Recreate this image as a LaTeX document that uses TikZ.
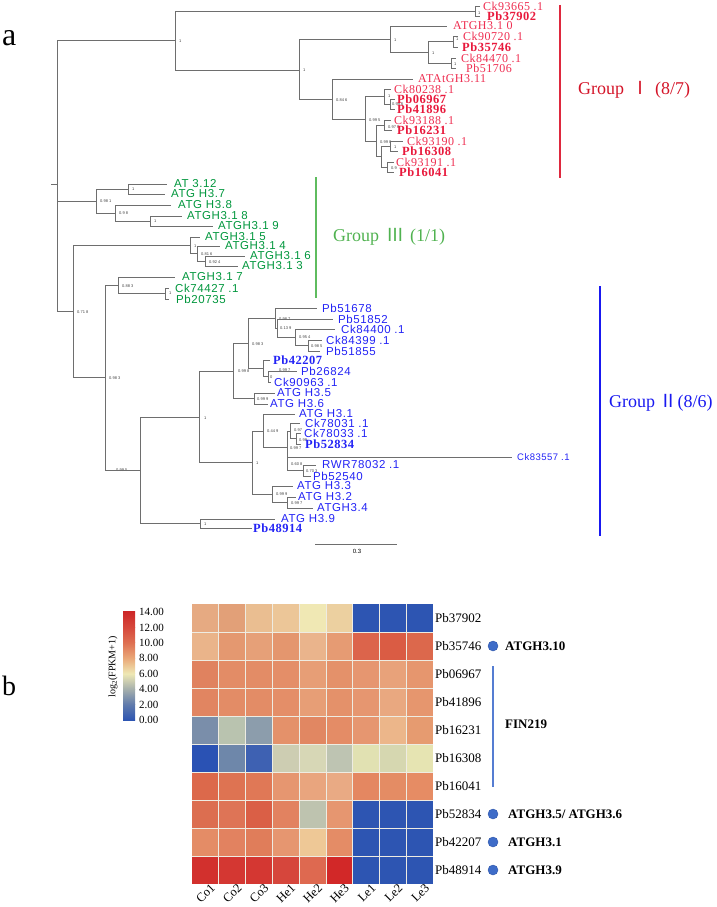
\documentclass[tikz,border=0pt]{standalone}
\usepackage{fontspec}
\setmainfont{Liberation Serif}
\newfontfamily\lsans[LetterSpace=5]{Liberation Sans}
\newfontfamily\lsanst{Liberation Sans}
\newfontfamily\lserifsp[LetterSpace=4]{Liberation Serif}
\newfontfamily\cjkf{Noto Sans CJK SC}
\definecolor{tred}{RGB}{238,45,80}
\definecolor{tredb}{RGB}{232,25,60}
\definecolor{tgreen}{RGB}{0,150,60}
\definecolor{tblue}{RGB}{35,35,245}
\definecolor{branch}{RGB}{110,110,110}
\definecolor{gred}{RGB}{212,20,40}
\definecolor{lred}{RGB}{222,40,62}
\definecolor{ggreen}{RGB}{80,178,80}
\definecolor{lgreen}{RGB}{95,188,95}
\definecolor{gblue}{RGB}{25,25,240}
\definecolor{hblue}{RGB}{45,85,178}
\definecolor{dotblue}{RGB}{62,108,200}
\definecolor{dotedge}{RGB}{45,85,170}
\definecolor{finline}{RGB}{85,125,210}
\definecolor{gridc}{RGB}{238,236,226}
\newcommand\leafn[6]{\coordinate (#1) at (#2,#3); \node[#5] (#1t) at (#4,#3) {#6};}
\newcommand\inn[5]{\coordinate (#1) at (#2,#3); \node[bs] (#1b) at (#4) {#5};}
\tikzset{
 br/.style={draw=branch,line width=0.6pt},
 bs/.style={anchor=west,inner sep=0pt,font=\lsanst\fontsize{4}{4}\selectfont,text=black!75},
 tR/.style={anchor=west,inner sep=0pt,text=tred,font=\lserifsp\fontsize{12}{12}\selectfont},
 tRb/.style={anchor=west,inner sep=0pt,text=tredb,font=\lserifsp\bfseries\fontsize{12.5}{12}\selectfont},
 tG/.style={anchor=west,inner sep=0pt,text=tgreen,font=\lsans\fontsize{11.5}{11}\selectfont},
 tB/.style={anchor=west,inner sep=0pt,text=tblue,font=\lsans\fontsize{11.5}{11}\selectfont},
 tBs/.style={anchor=west,inner sep=0pt,text=tblue,font=\lsans\fontsize{9.5}{9}\selectfont},
 tBb/.style={anchor=west,inner sep=0pt,text=tblue,font=\lserifsp\bfseries\fontsize{12.5}{12}\selectfont},
 grp/.style={anchor=west,inner sep=0pt,font=\fontsize{18}{18}\selectfont},
 rowlab/.style={anchor=west,inner sep=0pt,font=\fontsize{13}{13}\selectfont},
 ann/.style={anchor=west,inner sep=0pt,font=\bfseries\fontsize{13}{13}\selectfont},
 collab/.style={anchor=east,inner sep=0pt,rotate=45,font=\fontsize{12.5}{12.5}\selectfont},
 leglab/.style={anchor=west,inner sep=0pt,font=\fontsize{11}{11}\selectfont},
 dotc/.style={circle,fill=dotblue,draw=dotedge,line width=0.4pt,minimum size=10pt,inner sep=0pt},
}
\begin{document}
\begin{tikzpicture}[x=1pt,y=-1pt]
\useasboundingbox (0,0) rectangle (717,907);
% panel labels
\node[anchor=west,inner sep=0pt,font=\fontsize{32}{32}\selectfont] (pa) at (2,38) {a};
\node[anchor=west,inner sep=0pt,font=\fontsize{28}{28}\selectfont] (pb) at (2,686) {b};

% ---------------- tree: internal nodes ----------------
\coordinate (root0) at (51,184);
\coordinate (root) at (57,184);
% red
\inn{rA}{175}{40.5}{179,41}{1}
\inn{rB}{475}{11}{478,13}{1}
\inn{rC}{299}{70.5}{303,70}{1}
\inn{rD}{390}{39}{394,40}{1}
\inn{rE}{332}{99.5}{336,100}{0.84 6}
\inn{rF}{428}{52}{432,53}{1}
\inn{rG}{453}{41.5}{456,39}{1}
\inn{rH}{451}{63}{454,64}{1}
\inn{rI}{365}{119}{369,120}{0.99 5}
\inn{rJ}{384}{96.5}{388,96}{1}
\inn{rK}{376}{141}{380,142}{0.99 8}
\inn{rL}{390}{104}{392,104}{0.99 6}
\inn{rM}{384}{125}{388,127}{0.97 8}
\coordinate (rN) at (381,156.5);
\inn{rO}{390}{146}{394,147}{1}
\inn{rP}{387}{167}{391,168}{0.9}
% green
\inn{G1}{96}{201}{100,201}{0.98 1}
\inn{G2}{128}{189}{132,189}{1}
\inn{G3}{115}{213}{119,213}{0.9 8}
\inn{G4}{150}{221}{154,221}{1}
\inn{N73}{73}{311.5}{77,312}{0.71 8}
\inn{gA}{190}{245.5}{194,246}{1}
\inn{gB}{197}{253.5}{201,254}{0.81 6}
\inn{gC}{205}{261}{209,262}{0.92 4}
\inn{D}{105}{377.5}{109,378}{0.98 3}
\inn{gE}{118}{285}{122,286}{0.88 3}
\inn{gF}{165}{293.5}{169,293}{1}
% blue
\inn{F}{140}{470}{116,470}{0.99 5}
\inn{H}{199}{417}{204,418}{1}
\inn{I}{233}{371}{238,371}{0.99 8}
\inn{K}{248}{343.5}{252,344}{0.98 3}
\inn{L}{275}{318}{279,319}{0.98 7}
\inn{L2}{277}{328}{280,328.5}{0.13 9}
\inn{L3}{295}{337}{299,337.5}{0.95 4}
\inn{L4}{308}{345.5}{311,346}{0.98 5}
\inn{M}{263}{368.5}{279,370}{0.99 7}
\inn{M2}{268}{376.5}{270,377}{0}
\inn{N}{254}{398.5}{257,399}{0.99 9}
\inn{J}{252}{462.5}{256,463}{1}
\inn{O}{263}{431}{267,431}{0.44 9}
\inn{Q}{287}{447.5}{290,448}{0.99 7}
\inn{Q1}{290}{431}{294,430}{0.97}
\inn{Q2}{296}{438.5}{299,440}{0.99}
\inn{R}{287}{464}{291,464}{0.60 8}
\inn{R2}{303}{470.5}{306,471}{0.70 3}
\inn{P}{272}{494}{276,494}{0.99 9}
\inn{P2}{287}{502.5}{291,503}{0.99 7}
\inn{T}{200}{523.5}{204,524}{1}

% ---------------- leaves ----------------
\leafn{lCk93665}{480}{6}{483}{tR}{Ck93665 .1}
\leafn{lPb37902}{480}{16}{487}{tRb}{Pb37902}
\leafn{lATGH310}{447}{26}{453}{tR}{ATGH3.1 0}
\leafn{lCk90720}{458}{36}{463}{tR}{Ck90720 .1}
\leafn{lPb35746}{458}{47}{462}{tRb}{Pb35746}
\leafn{lCk84470}{456}{58}{461}{tR}{Ck84470 .1}
\leafn{lPb51706}{456}{68}{466}{tR}{Pb51706}
\leafn{lATAt}{413}{79}{418}{tR}{ATAtGH3.11}
\leafn{lCk80238}{391}{89}{394}{tR}{Ck80238 .1}
\leafn{lPb06967}{395}{99}{397}{tRb}{Pb06967}
\leafn{lPb41896}{395}{109}{397}{tRb}{Pb41896}
\leafn{lCk93188}{391}{120}{394}{tR}{Ck93188 .1}
\leafn{lPb16231}{392}{130}{397}{tRb}{Pb16231}
\leafn{lCk93190}{403}{141}{407}{tR}{Ck93190 .1}
\leafn{lPb16308}{398}{151}{402}{tRb}{Pb16308}
\leafn{lCk93191}{394}{162}{396}{tR}{Ck93191 .1}
\leafn{lPb16041}{394}{172}{399}{tRb}{Pb16041}

\leafn{lAT312}{167}{184}{174}{tG}{AT 3.12}
\leafn{lATGH37}{165}{194}{171}{tG}{ATG H3.7}
\leafn{lATGH38}{171}{205}{178}{tG}{ATG H3.8}
\leafn{lATGH318}{182}{216}{187}{tG}{ATGH3.1 8}
\leafn{lATGH319}{213}{226}{218}{tG}{ATGH3.1 9}
\leafn{lATGH315}{200}{237}{205}{tG}{ATGH3.1 5}
\leafn{lATGH314}{220}{246}{225}{tG}{ATGH3.1 4}
\leafn{lATGH316}{245}{256}{250}{tG}{ATGH3.1 6}
\leafn{lATGH313}{238}{266}{242}{tG}{ATGH3.1 3}
\leafn{lATGH317}{175}{277}{182}{tG}{ATGH3.1 7}
\leafn{lCk74427}{169}{288}{175}{tG}{Ck74427 .1}
\leafn{lPb20735}{169}{299}{176}{tG}{Pb20735}

\leafn{lPb51678}{317}{308}{322}{tB}{Pb51678}
\leafn{lPb51852}{333}{319}{338}{tB}{Pb51852}
\leafn{lCk84400}{335}{329}{341}{tB}{Ck84400 .1}
\leafn{lCk84399}{322}{340}{326}{tB}{Ck84399 .1}
\leafn{lPb51855}{320}{351}{326}{tB}{Pb51855}
\leafn{lPb42207}{270}{360}{273}{tBb}{Pb42207}
\leafn{lPb26824}{297}{371}{301}{tB}{Pb26824}
\leafn{lCk90963}{271}{382}{274}{tB}{Ck90963 .1}
\leafn{lATGH35}{275}{393}{277}{tB}{ATG H3.5}
\leafn{lATGH36}{268}{404}{270}{tB}{ATG H3.6}
\leafn{lATGH31}{295}{414}{299}{tB}{ATG H3.1}
\leafn{lCk78031}{300}{423}{305}{tB}{Ck78031 .1}
\leafn{lCk78033}{301}{433}{304}{tB}{Ck78033 .1}
\leafn{lPb52834}{301}{444}{305}{tBb}{Pb52834}
\leafn{lCk83557}{512}{457}{517}{tBs}{Ck83557 .1}
\leafn{lRWR}{316}{465}{322}{tB}{RWR78032 .1}
\leafn{lPb52540}{311}{476}{313}{tB}{Pb52540}
\leafn{lATGH33}{293}{486}{297}{tB}{ATG H3.3}
\leafn{lATGH32}{296}{497}{298}{tB}{ATG H3.2}
\leafn{lATGH34}{313}{508}{317}{tB}{ATGH3.4}
\leafn{lATGH39}{275}{519}{281}{tB}{ATG H3.9}
\leafn{lPb48914}{252}{528}{253}{tBb}{Pb48914}

% ---------------- branches ----------------
\draw[br] (root0) -- (root);
\draw[br] (root) |- (rA); \draw[br] (root) |- (G1); \draw[br] (root) |- (N73);
\draw[br] (rA) |- (rB); \draw[br] (rA) |- (rC);
\draw[br] (rB) |- (lCk93665); \draw[br] (rB) |- (lPb37902);
\draw[br] (rC) |- (rD); \draw[br] (rC) |- (rE);
\draw[br] (rD) |- (lATGH310); \draw[br] (rD) |- (rF);
\draw[br] (rF) |- (rG); \draw[br] (rF) |- (rH);
\draw[br] (rG) |- (lCk90720); \draw[br] (rG) |- (lPb35746);
\draw[br] (rH) |- (lCk84470); \draw[br] (rH) |- (lPb51706);
\draw[br] (rE) |- (lATAt); \draw[br] (rE) |- (rI);
\draw[br] (rI) |- (rJ); \draw[br] (rI) |- (rK);
\draw[br] (rJ) |- (lCk80238); \draw[br] (rJ) |- (rL);
\draw[br] (rL) |- (lPb06967); \draw[br] (rL) |- (lPb41896);
\draw[br] (rK) |- (rM); \draw[br] (rK) |- (rN);
\draw[br] (rM) |- (lCk93188); \draw[br] (rM) |- (lPb16231);
\draw[br] (rN) |- (rO); \draw[br] (rN) |- (rP);
\draw[br] (rO) |- (lCk93190); \draw[br] (rO) |- (lPb16308);
\draw[br] (rP) |- (lCk93191); \draw[br] (rP) |- (lPb16041);

\draw[br] (G1) |- (G2); \draw[br] (G1) |- (G3);
\draw[br] (G2) |- (lAT312); \draw[br] (G2) |- (lATGH37);
\draw[br] (G3) |- (lATGH38); \draw[br] (G3) |- (G4);
\draw[br] (G4) |- (lATGH318); \draw[br] (G4) |- (lATGH319);
\draw[br] (N73) |- (gA); \draw[br] (N73) |- (D);
\draw[br] (gA) |- (lATGH315); \draw[br] (gA) |- (gB);
\draw[br] (gB) |- (lATGH314); \draw[br] (gB) |- (gC);
\draw[br] (gC) |- (lATGH316); \draw[br] (gC) |- (lATGH313);
\draw[br] (D) |- (gE); \draw[br] (D) |- (F);
\draw[br] (gE) |- (lATGH317); \draw[br] (gE) |- (gF);
\draw[br] (gF) |- (lCk74427); \draw[br] (gF) |- (lPb20735);

\draw[br] (F) |- (H); \draw[br] (F) |- (T);
\draw[br] (H) |- (I); \draw[br] (H) |- (J);
\draw[br] (I) |- (K); \draw[br] (I) |- (N);
\draw[br] (K) |- (L); \draw[br] (K) |- (M);
\draw[br] (L) |- (lPb51678); \draw[br] (L) |- (L2);
\draw[br] (L2) |- (lPb51852); \draw[br] (L2) |- (L3);
\draw[br] (L3) |- (lCk84400); \draw[br] (L3) |- (L4);
\draw[br] (L4) |- (lCk84399); \draw[br] (L4) |- (lPb51855);
\draw[br] (M) |- (lPb42207); \draw[br] (M) |- (M2);
\draw[br] (M2) |- (lPb26824); \draw[br] (M2) |- (lCk90963);
\draw[br] (N) |- (lATGH35); \draw[br] (N) |- (lATGH36);
\draw[br] (J) |- (O); \draw[br] (J) |- (P);
\draw[br] (O) |- (lATGH31); \draw[br] (O) |- (Q);
\draw[br] (Q) |- (Q1); \draw[br] (Q) |- (R);
\draw[br] (Q1) |- (lCk78031); \draw[br] (Q1) |- (Q2);
\draw[br] (Q2) |- (lCk78033); \draw[br] (Q2) |- (lPb52834);
\draw[br] (R) |- (lCk83557); \draw[br] (R) |- (R2);
\draw[br] (R2) |- (lRWR); \draw[br] (R2) |- (lPb52540);
\draw[br] (P) |- (lATGH33); \draw[br] (P) |- (P2);
\draw[br] (P2) |- (lATGH32); \draw[br] (P2) |- (lATGH34);
\draw[br] (T) |- (lATGH39); \draw[br] (T) |- (lPb48914);

% ---------------- group bars ----------------
\coordinate (g1t) at (560,5); \coordinate (g1b) at (560,178);
\draw[lred,line width=1.5pt] (g1t) -- (g1b);
\node[grp,text=gred] (g1l) at (578,90) {Group\hspace{7pt}{\cjkf Ⅰ}\hspace{6pt}(8/7)};
\coordinate (g3t) at (316,177); \coordinate (g3b) at (316,298);
\draw[lgreen,line width=1.3pt] (g3t) -- (g3b);
\node[grp,text=ggreen] (g3l) at (333,237) {Group\hspace{7pt}{\cjkf Ⅲ}\hspace{6pt}(1/1)};
\coordinate (g2t) at (600,286); \coordinate (g2b) at (600,536);
\draw[gblue,line width=1.5pt] (g2t) -- (g2b);
\node[grp,text=gblue] (g2l) at (609,403) {Group {\cjkf Ⅱ}(8/6)};

% scale bar
\coordinate (sb1) at (315,544); \coordinate (sb2) at (397,544);
\draw[branch,line width=0.6pt] (sb1) -- (sb2);
\node[inner sep=0pt,font=\lsanst\fontsize{6}{6}\selectfont] (sbl) at (357,551) {0.3};

% ---------------- heatmap ----------------
\newcommand\hrow[2]{%
 \foreach \cR/\cG/\cB [count=\ci from 0] in {#2} {
  \definecolor{tmpc}{RGB}{\cR,\cG,\cB}
  \fill[tmpc] (192+26.8*\ci,604+28*#1) rectangle +(26.8,28);
 }}
\hrow{0}{230/170/130,226/160/120,234/190/145,236/198/152,240/232/180,236/208/160,45/85/178,45/85/178,45/85/178}
\hrow{1}{234/180/138,228/152/112,230/160/120,228/150/110,234/180/140,230/155/115,220/100/75,218/92/68,220/104/76}
\hrow{2}{224/130/95,227/140/102,227/140/102,228/142/104,231/158/118,228/145/106,230/150/112,232/162/122,230/150/110}
\hrow{3}{225/133/97,227/140/102,227/140/102,228/142/104,231/158/118,228/145/106,230/150/112,233/168/128,230/150/110}
\hrow{4}{122/142/170,185/195/175,140/157/172,228/145/106,225/135/98,228/140/102,230/150/112,236/182/138,230/155/112}
\hrow{5}{42/82/180,110/135/170,62/97/178,205/205/178,215/215/182,190/196/178,225/225/178,214/215/176,230/228/178}
\hrow{6}{220/105/75,222/115/82,224/120/86,230/150/112,233/165/126,233/170/132,228/135/97,228/140/100,230/140/100}
\hrow{7}{220/110/80,222/116/86,218/95/70,226/130/96,190/195/175,230/150/112,45/85/178,45/85/178,45/85/178}
\hrow{8}{228/140/102,226/130/96,224/125/90,230/150/112,238/200/150,228/140/102,45/85/178,45/85/178,45/85/178}
\hrow{9}{210/48/45,212/55/50,212/55/50,214/70/60,222/105/80,210/40/40,45/85/178,45/85/178,45/85/178}
\foreach \k in {1,...,8} \draw[gridc,line width=0.9pt] (192+26.8*\k,604) -- (192+26.8*\k,884);
\foreach \k in {1,...,9} \draw[gridc,line width=0.9pt] (192,604+28*\k) -- (433.2,604+28*\k);

% row labels
\foreach \lab [count=\k from 0] in {Pb37902,Pb35746,Pb06967,Pb41896,Pb16231,Pb16308,Pb16041,Pb52834,Pb42207,Pb48914}
  \node[rowlab] (row\k) at (435,618+28*\k) {\lab};
% column labels
\foreach \lab [count=\k from 0] in {Co1,Co2,Co3,He1,He2,He3,Le1,Le2,Le3}
  \node[collab] (col\k) at (192+26.8*\k+21,886) {\lab};

% annotations
\node[dotc] (d1) at (493,646) {};
\node[ann] (a1) at (505,646) {ATGH3.10};
\coordinate (fin1) at (493,666); \coordinate (fin2) at (493,787);
\draw[finline,line width=1.2pt] (fin1) -- (fin2);
\node[ann] (afin) at (505,724) {FIN219};
\node[dotc] (d2) at (493,814) {};
\node[ann] (a2) at (508,814) {ATGH3.5/ ATGH3.6};
\node[dotc] (d3) at (493,842) {};
\node[ann] (a3) at (508,842) {ATGH3.1};
\node[dotc] (d4) at (493,870) {};
\node[ann] (a4) at (508,870) {ATGH3.9};

% legend
\def\lh{15.43}
\shade[bottom color={rgb,255:red,45;green,85;blue,178},top color={rgb,255:red,95;green,122;blue,172}] (123,720) rectangle (135,720-\lh);
\shade[bottom color={rgb,255:red,95;green,122;blue,172},top color={rgb,255:red,165;green,175;blue,172}] (123,720-\lh) rectangle (135,720-2*\lh);
\shade[bottom color={rgb,255:red,165;green,175;blue,172},top color={rgb,255:red,238;green,232;blue,180}] (123,720-2*\lh) rectangle (135,720-3*\lh);
\shade[bottom color={rgb,255:red,238;green,232;blue,180},top color={rgb,255:red,234;green,168;blue,120}] (123,720-3*\lh) rectangle (135,720-4*\lh);
\shade[bottom color={rgb,255:red,234;green,168;blue,120},top color={rgb,255:red,222;green,112;blue,82}] (123,720-4*\lh) rectangle (135,720-5*\lh);
\shade[bottom color={rgb,255:red,222;green,112;blue,82},top color={rgb,255:red,214;green,72;blue,60}] (123,720-5*\lh) rectangle (135,720-6*\lh);
\shade[bottom color={rgb,255:red,214;green,72;blue,60},top color={rgb,255:red,205;green,40;blue,40}] (123,720-6*\lh) rectangle (135,720-7*\lh);
\foreach \lab [count=\k from 0] in {0.00,2.00,4.00,6.00,8.00,10.00,12.00,14.00}
  \node[leglab] (leg\k) at (139,720-\lh*\k) {\lab};
\node[inner sep=0pt,rotate=90,font=\fontsize{10}{10}\selectfont] (legt) at (113,667) {log\textsubscript{2}(FPKM+1)};
\end{tikzpicture}
\end{document}
